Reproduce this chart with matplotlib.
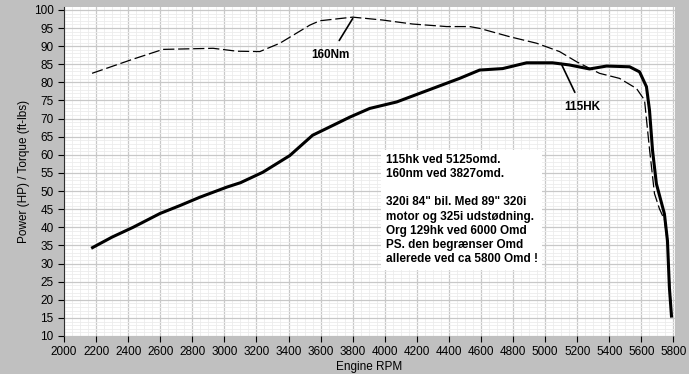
import matplotlib
matplotlib.use("Agg")
import matplotlib.pyplot as plt
from matplotlib.ticker import MultipleLocator

# Torque (dashed) readings
rpm_tq = [2175, 2430, 2617, 2930, 3078, 3221, 3346, 3533, 3595, 3800, 3987, 4174,
          4386, 4529, 4592, 4779, 4947, 5090, 5196, 5339, 5464, 5570, 5620, 5650,
          5682, 5713, 5745, 5765, 5778, 5790]
torque = [82.5, 86.4, 89.1, 89.4, 88.6, 88.5, 90.8, 95.8, 97.0, 98.0, 97.2, 96.1,
          95.4, 95.4, 94.9, 92.6, 90.8, 88.5, 85.7, 82.5, 81.1, 78.3, 75.1, 62.0,
          49.3, 45.1, 42.0, 35.0, 23.0, 15.5]

# Power (solid) readings
rpm_pw = [2178, 2300, 2431, 2598, 2723, 2847, 3016, 3100, 3240, 3408, 3550, 3657,
          3782, 3906, 4075, 4280, 4467, 4592, 4735, 4885, 5046, 5152, 5277, 5383,
          5527, 5589, 5632, 5651, 5670, 5694, 5744, 5763, 5775, 5788]
power = [34.4, 37.3, 40.0, 43.8, 46.0, 48.3, 51.1, 52.3, 55.2, 59.8, 65.4, 67.7,
         70.4, 72.8, 74.6, 78.0, 81.1, 83.4, 83.8, 85.4, 85.4, 84.8, 83.7, 84.5,
         84.3, 82.9, 78.8, 72.3, 61.2, 52.0, 43.7, 36.3, 23.4, 15.5]

note = ("115hk ved 5125omd.\n160nm ved 3827omd.\n\n"
        "320i 84\" bil. Med 89\" 320i\nmotor og 325i udstødning.\n"
        "Org 129hk ved 6000 Omd\nPS. den begrænser Omd\nallerede ved ca 5800 Omd !")

plt.rcParams['font.family'] = ['Liberation Sans', 'DejaVu Sans']

fig = plt.figure(figsize=(6.89, 3.74), dpi=100, facecolor="#c0c0c0")
ax = fig.add_axes([64/689, 38/374, 611/689, 329/374])
ax.set_facecolor("white")

ax.xaxis.set_major_locator(MultipleLocator(200))
ax.xaxis.set_minor_locator(MultipleLocator(50))
ax.yaxis.set_major_locator(MultipleLocator(5))
ax.yaxis.set_minor_locator(MultipleLocator(1))
ax.grid(which="major", color="#c8c8c8", lw=0.9)
ax.grid(which="minor", color="#ececec", lw=0.6)
ax.set_axisbelow(True)

ax.plot(rpm_tq, torque, color="black", lw=0.9, dashes=(9, 3))
ax.plot(rpm_pw, power, color="black", lw=2.2)

ax.set_xlim(2000, 5810)
ax.set_ylim(10, 100.8)

ax.tick_params(which="minor", length=0)
ax.tick_params(which="major", length=4, direction="out", labelsize=8.5, colors="black")
for s in ["top", "right", "bottom"]:
    ax.spines[s].set_visible(False)
ax.spines["left"].set_color("#303030")

ax.set_xlabel("Engine RPM", fontsize=8.5, labelpad=2)
ax.set_ylabel("Power (HP) / Torque (ft-lbs)", fontsize=8.5, labelpad=3)

ax.annotate("160Nm", xy=(3800, 97.6), xytext=(3660, 87.5), fontsize=8.5,
            fontweight="bold", ha="center", va="center",
            arrowprops=dict(arrowstyle="-", color="black", lw=1.2, shrinkA=5, shrinkB=0))
ax.annotate("115HK", xy=(5100, 85.2), xytext=(5230, 73.1), fontsize=8.5,
            fontweight="bold", ha="center", va="center",
            arrowprops=dict(arrowstyle="-", color="black", lw=1.2, shrinkA=5, shrinkB=0))

ax.text(4005, 60.3, note, fontsize=8.5, fontweight="bold", ha="left", va="top",
        linespacing=1.25,
        bbox=dict(facecolor="white", edgecolor="none", pad=3))

fig.savefig("out.png", dpi=100, facecolor=fig.get_facecolor())
